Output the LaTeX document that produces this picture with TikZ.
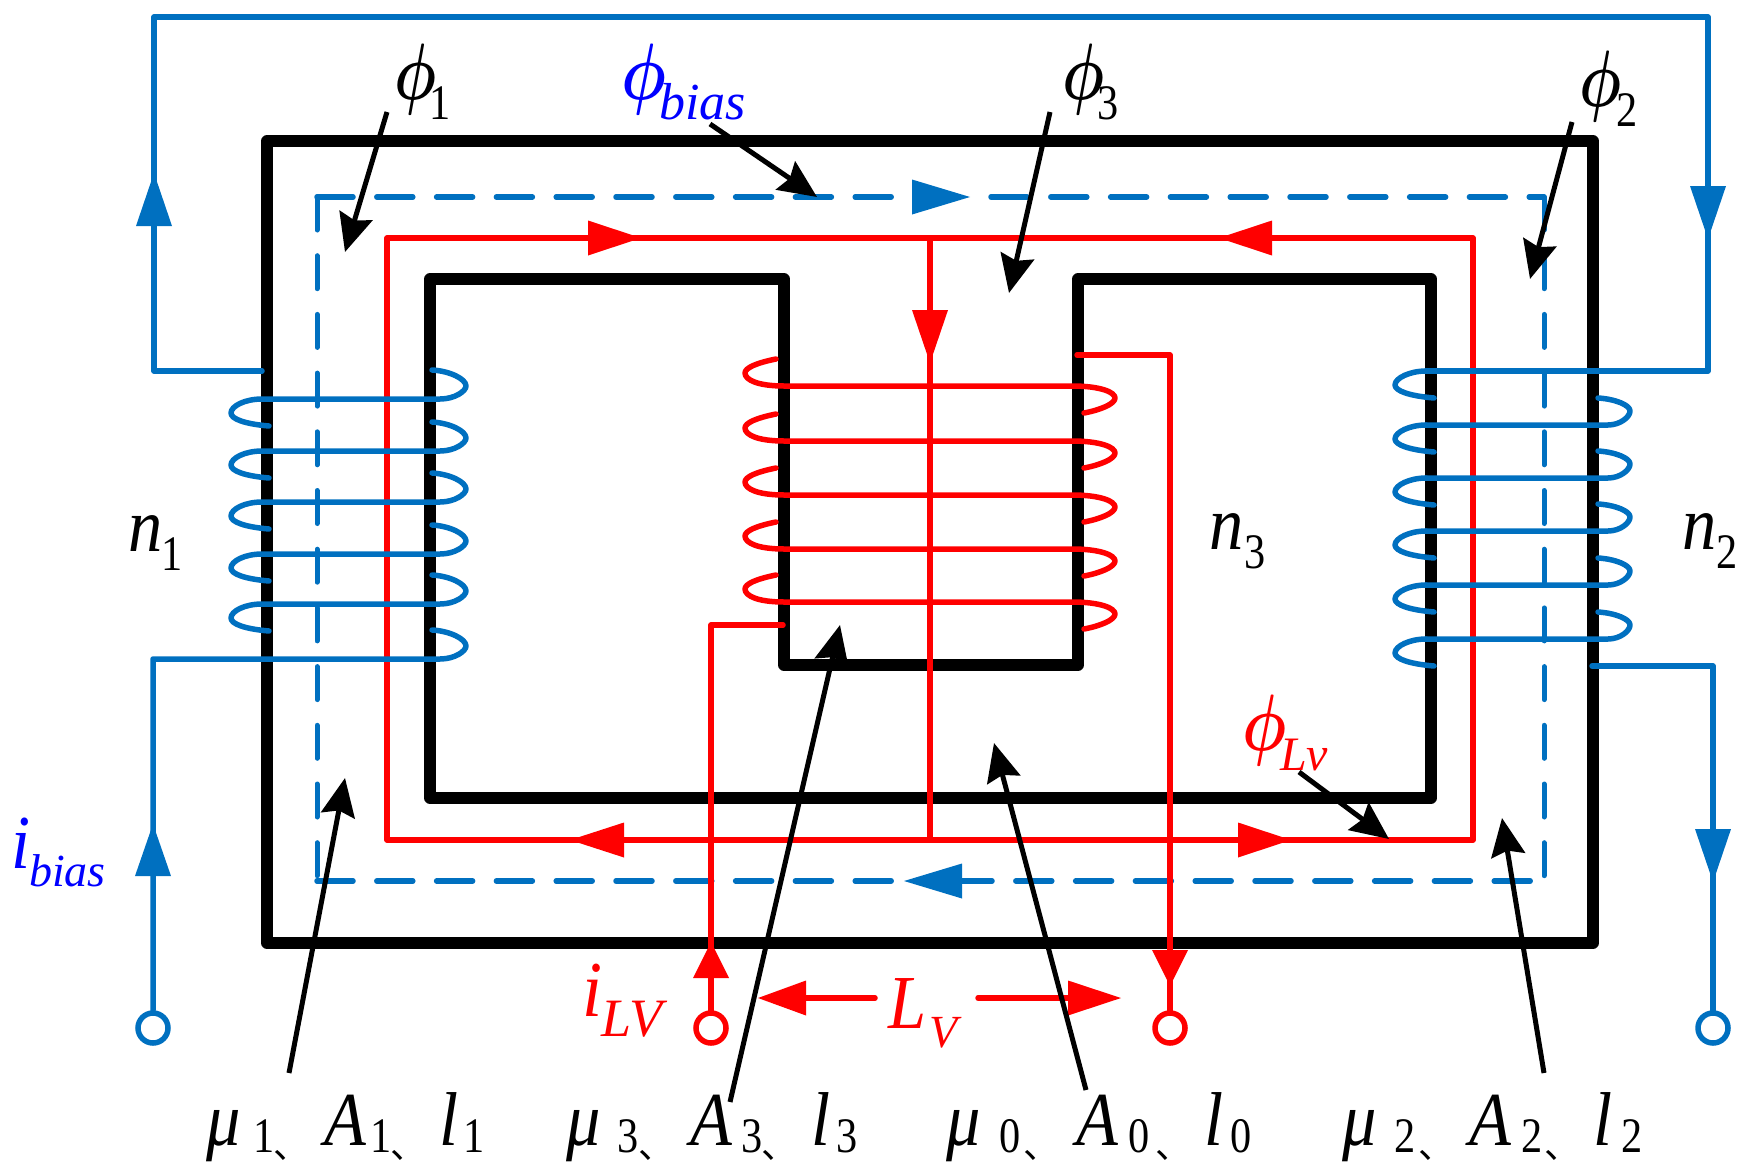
\documentclass[tikz,border=0pt]{standalone}
\usepackage{graphicx}
\usepackage{fontspec}
\setmainfont{Liberation Serif}
\newfontfamily\cjkf{Noto Sans CJK SC}
\usetikzlibrary{arrows.meta}
\definecolor{wireblue}{HTML}{0070C0}
\definecolor{textblue}{HTML}{0000FF}
\definecolor{wirered}{HTML}{FF0000}
\newcommand\bigf{\fontsize{72}{72}\selectfont\itshape}
\newcommand\mg[1]{\scalebox{0.95}[1.06]{\bigf #1}}
\newcommand\subf{\fontsize{46}{46}\selectfont\upshape}
\newcommand\subi{\itshape}
\newcommand\sdg[1]{\scalebox{0.92}[1.08]{\subf #1}}
\newcommand\gl[2]{\makebox[#1pt][l]{#2}}
\newcommand\dn[2]{\raisebox{-#1pt}{#2}}
\newcommand\phg[1][5.9]{\scalebox{#1}[8]{\boldmath$\phi$}}
\newcommand\dun{\raisebox{-13pt}{\fontsize{36}{36}\selectfont\cjkf 、}}
% mu/A/l triple: digit, then seven advances
\newcommand\trip[8]{\gl{#2}{\mg{μ}}\gl{#3}{\dn{7}{\sdg{#1}}}\gl{#4}{\dun}\gl{#5}{\mg{A}}\gl{#6}{\dn{7}{\sdg{#1}}}\gl{#7}{\dun}\gl{#8}{\mg{l}}\dn{7}{\sdg{#1}}}
\newcommand\harrow[4]{\fill[#1] (#2,#4) -- (#3,#4-17.5) -- (#3,#4+17.5) -- cycle;}
\newcommand\varrow[4]{\fill[#1] (#4,#2) -- (#4-18,#3) -- (#4+18,#3) -- cycle;}
\tikzset{
  core/.style={line width=11.5pt,line join=round,line cap=round,black},
  bwire/.style={line width=5.5pt,wireblue,line join=round,line cap=round},
  rwire/.style={line width=5.5pt,wirered,line join=round,line cap=round},
  fluxh/.style={line width=5.5pt,wireblue,line cap=round,dash pattern=on 36pt off 23.8pt},
  fluxv/.style={line width=5pt,wireblue,line cap=round,dash pattern=on 33pt off 25.7pt},
  note/.style={line width=5pt,black,-{Stealth[length=38pt,width=34pt,inset=5pt]}},
  term/.style={circle,line width=5.5pt,fill=white,minimum size=30pt,inner sep=0pt},
  lab/.style={anchor=base west,inner sep=0pt,outer sep=0pt},
}
\begin{document}
\begin{tikzpicture}[x=1pt,y=-1pt]
\useasboundingbox (0,0) rectangle (1758,1175);
% iron core
\draw[core] (267,141) rectangle (1593,943);
\draw[core] (430,279) -- (784,279) -- (784,665) -- (1078,665) -- (1078,279) -- (1431,279) -- (1431,798) -- (430,798) -- cycle;
% bias flux path
\draw[fluxh] (317,197) -- (912,197);
\draw[fluxh] (991,197) -- (1544,197);
\draw[fluxv] (317,197) -- (317,881);
\draw[fluxv] (1544,197) -- (1544,881);
\draw[fluxh] (317,881) -- (912,881);
\draw[fluxh] (956,881) -- (1532,881);
% AC flux path
\draw[rwire] (387,238) rectangle (1473,840);
\draw[rwire] (930,238) -- (930,840);
% terminals
\node[term,draw=wireblue] (tb1) at (153,1028) {};
\node[term,draw=wirered] (tr1) at (711,1028) {};
\node[term,draw=wirered] (tr2) at (1170,1028) {};
\node[term,draw=wireblue] (tb2) at (1713,1028) {};
% centre winding
\foreach \y in {386,441,495,549,602}{
  \draw[rwire] (776,\y-27) .. controls (756,\y-23) and (745,\y-18) .. (745,\y-13)
     .. controls (745,\y-6) and (758,\y) .. (784,\y) -- (1072,\y)
     .. controls (1100,\y) and (1115,\y+6) .. (1115,\y+12)
     .. controls (1115,\y+18) and (1100,\y+24) .. (1084,\y+27);
}
\coordinate (rin) at (783,625);
\coordinate (rout) at (1077,355);
\draw[rwire] (rin) -| (tr1.north);
\draw[rwire] (rout) -| (tr2.north);
% left winding
\foreach \y in {399,451,502,554,604}{
  \draw[bwire] (269,\y+27) .. controls (245,\y+25) and (231,\y+20) .. (231,\y+14)
     .. controls (231,\y+7) and (245,\y) .. (262,\y) -- (440,\y)
     .. controls (455,\y) and (466,\y-8) .. (466,\y-13)
     .. controls (466,\y-20) and (450,\y-28) .. (432,\y-29);
}
\coordinate (ltop) at (262,371);
\coordinate (ttl) at (154,17);
\coordinate (ttr) at (1708,17);
\coordinate (rtop) at (1708,371);
\draw[bwire] (ltop) -- (154,371) -- (ttl) -- (ttr) -- (rtop) -- (1426,371);
\draw[bwire] (tb1.north) -- (153,659) -- (440,659)
     .. controls (455,659) and (466,651) .. (466,646)
     .. controls (466,639) and (450,631) .. (432,630);
% right winding
\foreach \y in {371,425,478,531,585,639}{
  \draw[bwire] (1434,\y+27) .. controls (1410,\y+25) and (1395,\y+20) .. (1395,\y+14)
     .. controls (1395,\y+7) and (1410,\y) .. (1426,\y);
}
\foreach \y in {425,478,531,585,639}{
  \draw[bwire] (1426,\y) -- (1608,\y)
     .. controls (1620,\y) and (1630,\y-8) .. (1630,\y-14)
     .. controls (1630,\y-20) and (1615,\y-26) .. (1598,\y-27);
}
\coordinate (rbot) at (1592,666);
\draw[bwire] (rbot) -| (tb2.north);
% flow arrowheads
\varrow{wireblue}{173}{226}{154}
\varrow{wireblue}{239}{186}{1708}
\varrow{wireblue}{824}{876}{153}
\varrow{wireblue}{882}{829}{1713}
\harrow{wireblue}{970}{912}{197}
\harrow{wireblue}{904}{962}{881}
\harrow{wirered}{641}{588}{238}
\harrow{wirered}{1219}{1272}{238}
\harrow{wirered}{570}{624}{840}
\harrow{wirered}{1291}{1238}{840}
\varrow{wirered}{363}{310}{930}
\varrow{wirered}{942}{978}{711}
\varrow{wirered}{986}{950}{1170}
% gap arrows
\coordinate (lva) at (875,998);
\coordinate (lvb) at (978,998);
\draw[rwire] (lva) -- (806,998);
\draw[rwire] (lvb) -- (1068,998);
\harrow{wirered}{758}{806}{998}
\harrow{wirered}{1121}{1068}{998}
% labels
\node[lab] (p1) at (394,99) {\gl{35}{\phg}\dn{20}{\sdg{1}}};
\node[lab,text=textblue] (pb) at (621,99) {\gl{38}{\phg[6.3]}\dn{20}{\subi\fontsize{52}{52}\selectfont bias}};
\node[lab] (p3) at (1062,99) {\gl{35}{\phg}\dn{20}{\sdg{3}}};
\node[lab] (p2) at (1579,106) {\gl{37}{\phg}\dn{20}{\sdg{2}}};
\node[lab,text=wirered] (pl) at (1242,750) {\gl{38}{\phg[6.2]}\dn{20}{\subi\fontsize{48}{48}\selectfont Lv}};
\node[lab] (n1) at (128,551) {\gl{33}{\mg{n}}\dn{19}{\sdg{1}}};
\node[lab] (n3) at (1209,549) {\gl{35}{\mg{n}}\dn{19}{\sdg{3}}};
\node[lab] (n2) at (1682,549) {\gl{34}{\mg{n}}\dn{19}{\sdg{2}}};
\node[lab,text=textblue] (ib) at (11,868) {\gl{18}{\mg{i}}\dn{18}{\subi\fontsize{46}{46}\selectfont bias}};
\node[lab,text=wirered] (il) at (582,1016) {\gl{19}{\scalebox{1}[1.1]{\bigf i}}\dn{20}{\subi\fontsize{54}{54}\selectfont LV}};
\node[lab,text=wirered] (lv) at (888,1028) {\gl{41}{\mg{L}}\dn{19}{\subi\fontsize{46}{46}\selectfont V}};
\node[lab] (m1) at (206,1145) {\trip{1}{47}{20}{51}{46}{20}{49}{24}};
\node[lab] (m3) at (566,1145) {\trip{3}{51}{21}{52}{51}{20}{50}{25}};
\node[lab] (m0) at (946,1145) {\trip{0}{53}{24}{53}{52}{27}{49}{26}};
\node[lab] (m2) at (1342,1145) {\trip{2}{52}{24}{51}{52}{23}{49}{28}};
% annotation arrows
\coordinate (s1) at (387,112); \coordinate (t1) at (345,252);
\coordinate (sb) at (710,124); \coordinate (tb) at (817,197);
\coordinate (s3) at (1050,112); \coordinate (t3) at (1009,293);
\coordinate (s2) at (1572,122); \coordinate (t2) at (1530,279);
\coordinate (sm1) at (289,1073); \coordinate (tm1) at (345,778);
\coordinate (sm3) at (730,1102); \coordinate (tm3) at (840,625);
\coordinate (sm0) at (1086,1090); \coordinate (tm0) at (994,743);
\coordinate (sm2) at (1544,1073); \coordinate (tm2) at (1502,818);
\coordinate (sl) at (1299,772); \coordinate (tl) at (1389,839);
\foreach \a/\b in {s1/t1,sb/tb,s3/t3,s2/t2,sm1/tm1,sm3/tm3,sm0/tm0,sm2/tm2,sl/tl}{
  \draw[note] (\a) -- (\b);
}
\end{tikzpicture}
\end{document}
